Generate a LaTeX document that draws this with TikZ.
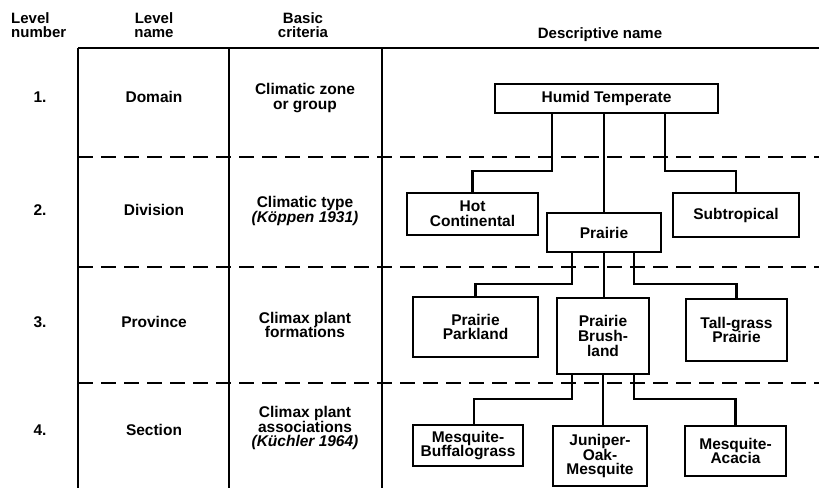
\documentclass[tikz,border=0pt]{standalone}
\usepackage{fontspec}
\setmainfont{Liberation Sans}
\begin{document}
\begin{tikzpicture}[x=1pt,y=-1pt,
  txt/.style={font=\fontsize{15.5}{14.8}\selectfont\bfseries, align=center, inner sep=0pt},
  hdr/.style={font=\fontsize{15}{14}\selectfont\bfseries, align=center, inner sep=0pt},
  box/.style={draw, line width=1.8pt, font=\fontsize{15.5}{14.8}\selectfont\bfseries, align=center, inner sep=0pt},
  conn/.style={line width=2.6pt},
  tline/.style={line width=1.8pt},
  dline/.style={line width=1.9pt, dash pattern=on 15pt off 8pt}
]
\useasboundingbox (0,0) rectangle (819,488);

% table frame
\draw[tline] (78,48) -- (819,48);
\draw[tline] (78,48) -- (78,488);
\draw[tline] (229,48) -- (229,488);
\draw[tline] (382,48) -- (382,488);
\foreach \yy in {157,267,383} \draw[dline] (78,\yy) -- (819,\yy);

% headers
\node[hdr, align=left, anchor=west] (hnum) at (11,25) {Level\\number};
\node[hdr] (hname) at (154,25) {Level\\name};
\node[hdr] (hcrit) at (303,25) {Basic\\criteria};
\node[hdr, anchor=base] (hdesc) at (600,38) {Descriptive name};

% row texts
\node[txt] (n1) at (40,97) {1.};
\node[txt] (l1) at (154,97) {Domain};
\node[txt] (c1) at (305,98) {Climatic zone\\or group};

\node[txt] (n2) at (40,210) {2.};
\node[txt] (l2) at (154,210) {Division};
\node[txt] (c2) at (305,211) {Climatic type\\\textit{(Köppen 1931)}};

\node[txt] (n3) at (40,322) {3.};
\node[txt] (l3) at (154,322) {Province};
\node[txt] (c3) at (305,325) {Climax plant\\formations};

\node[txt] (n4) at (40,430) {4.};
\node[txt] (l4) at (154,430) {Section};
\node[txt] (c4) at (305,428) {Climax plant\\associations\\\textit{(Küchler 1964)}};

% descriptive boxes
\node[box, minimum width=223pt, minimum height=29pt] (ht) at (606.5,98.5) {Humid Temperate};
\node[box, minimum width=131pt, minimum height=42pt] (hc) at (472.5,214) {Hot\\Continental};
\node[box, minimum width=114pt, minimum height=39pt] (pr) at (604,232.5) {Prairie};
\node[box, minimum width=126pt, minimum height=44pt] (st) at (736,215) {Subtropical};
\node[box, minimum width=125pt, minimum height=60pt] (pp) at (475.5,327) {Prairie\\Parkland};
\node[box, minimum width=92pt, minimum height=76pt] (pb) at (603,336) {Prairie\\Brush-\\land};
\node[box, minimum width=101pt, minimum height=62pt] (tg) at (736.5,330) {Tall-grass\\Prairie};
\node[box, minimum width=110pt, minimum height=41pt] (mb) at (468,445.5) {Mesquite-\\Buffalograss};
\node[box, minimum width=94pt, minimum height=60pt] (jm) at (600,456) {Juniper-\\Oak-\\Mesquite};
\node[box, minimum width=101pt, minimum height=50pt] (ma) at (735.5,451) {Mesquite-\\Acacia};

% connectors
\draw[conn] ([xshift=-54.5pt]ht.south) -- ++(0,57) -| (hc.north);
\draw[conn] (pr.north |- ht.south) -- (pr.north);
\draw[conn] ([xshift=58.5pt]ht.south) -- ++(0,57) -| (st.north);

\draw[conn] ([xshift=-32pt]pr.south) -- ++(0,31) -| (pp.north);
\draw[conn] (pr.south) -- (pr.south |- pb.north);
\draw[conn] ([xshift=30pt]pr.south) -- ++(0,31) -| (tg.north);

\draw[conn] ([xshift=-31pt]pb.south) -- ++(0,24) -| ([xshift=6pt]mb.north);
\draw[conn] (pb.south) -- (pb.south |- jm.north);
\draw[conn] ([xshift=31pt]pb.south) -- ++(0,24) -| (ma.north);
\end{tikzpicture}
\end{document}
